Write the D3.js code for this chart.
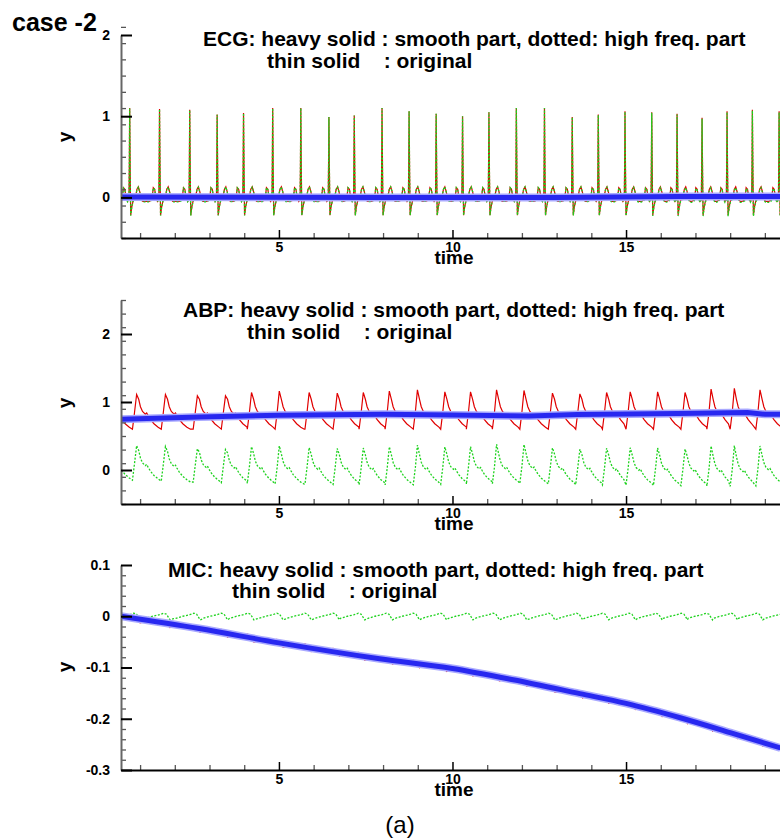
<!DOCTYPE html>
<html>
<head>
<meta charset="utf-8">
<script src="https://cdn.jsdelivr.net/npm/d3@7"></script>
<style>
  body { margin: 0; background: #fff; }
  text { font-family: "Liberation Sans", Arial, sans-serif; }
</style>
</head>
<body>
<svg id="chart" width="780" height="838"></svg>
<script>
// ---- data ----
const timeDomain = [0.45, 19.45];
const xMajorTicks = [5, 10, 15];
const xMinorTicks = [1, 2, 3, 4, 6, 7, 8, 9, 11, 12, 13, 14, 16, 17, 18, 19];

// ECG: R-peak times and heights, one beat shape [dt, value] (null = R peak)
const ecgBeatTimes = [0.70, 1.56, 2.43, 3.22, 3.98, 4.82, 5.63, 6.44, 7.17, 7.97, 8.75, 9.53, 10.29,
  11.05, 11.84, 12.65, 13.45, 14.20, 14.97, 15.74, 16.47, 17.19, 17.91, 18.64, 19.41];
const ecgPeaks = [1.10, 1.09, 1.08, 1.02, 1.04, 1.10, 1.10, 0.99, 1.01, 1.10, 1.06, 1.03, 1.00,
  1.05, 1.10, 1.10, 0.99, 1.02, 1.06, 1.05, 1.03, 0.98, 1.06, 1.08, 1.06];
const ecgBeat = [[-0.30, -0.05], [-0.22, -0.03], [-0.18, 0.12], [-0.14, 0.10], [-0.10, -0.01],
  [-0.06, -0.05], [-0.02, -0.02], [-0.01, 0.40], [0, null], [0.015, 0.30], [0.03, -0.22],
  [0.06, -0.12], [0.10, -0.04], [0.16, -0.01], [0.21, 0.10], [0.25, 0.13], [0.29, 0.07],
  [0.33, -0.02], [0.38, -0.05], [0.45, -0.05]];
const ecgSmooth = [[0.45, 0.005], [8, 0.0], [13, 0.0], [16.5, 0.01], [19.45, 0.012]];

// ABP: pulse peak times and heights, one pulse shape
const abpBeatTimes = [0.07, 0.90, 1.73, 2.65, 3.46, 4.21, 5.01, 5.87, 6.68, 7.43, 8.18, 8.99, 9.78,
  10.52, 11.27, 12.06, 12.88, 13.67, 14.44, 15.12, 15.91, 16.70, 17.45, 18.12, 18.86, 19.62];
const abpPeaks = [1.10, 1.11, 1.11, 1.09, 1.09, 1.14, 1.16, 1.14, 1.13, 1.14, 1.16, 1.18, 1.15,
  1.15, 1.18, 1.17, 1.13, 1.12, 1.14, 1.15, 1.15, 1.14, 1.19, 1.20, 1.18, 1.15];
const abpBeat = [[-0.12, 0.60], [-0.06, 0.85], [0, null], [0.06, 1.04], [0.11, 0.93], [0.17, 0.86],
  [0.25, 0.82], [0.29, 0.84], [0.33, 0.80], [0.40, 0.74], [0.50, 0.68], [0.62, 0.63], [0.72, 0.60]];
const abpSmooth = [[0.45, 0.745], [2.7, 0.78], [5, 0.805], [8, 0.82], [10, 0.81], [12.2, 0.795],
  [13.6, 0.815], [16.5, 0.83], [18.5, 0.845], [19, 0.82], [19.45, 0.82]];

// MIC: smooth trend and the small per-beat ripple
const micSmooth = [[0.45, 0.0], [2.7, -0.024], [5, -0.052], [7.9, -0.083], [10, -0.102],
  [11.75, -0.124], [13.67, -0.151], [15, -0.170], [16.56, -0.198], [18, -0.227], [19.45, -0.257]];
const micRipple = [[-0.40, -0.004], [-0.20, 0.0], [0.0, 0.003], [0.12, 0.006], [0.20, 0.004],
  [0.30, -0.007], [0.38, -0.005]];

// ---- helpers ----
function beatTrace(times, peaks, shape) {
  const pts = [];
  times.forEach((t0, i) => {
    const limit = i + 1 < times.length ? times[i + 1] + shape[0][0] : Infinity;
    shape.forEach(([dt, v]) => {
      if (t0 + dt < limit) pts.push([t0 + dt, v === null ? peaks[i] : v]);
    });
  });
  return pts;
}
function interp(knots) {
  return d3.scaleLinear().domain(knots.map(d => d[0])).range(knots.map(d => d[1])).clamp(true);
}

const ecgRed = beatTrace(ecgBeatTimes, ecgPeaks, ecgBeat);
const ecgS = interp(ecgSmooth);
const ecgGreen = ecgRed.map(([t, v]) => [t, v - ecgS(t)]);

const abpRed = beatTrace(abpBeatTimes, abpPeaks, abpBeat);
const abpS = interp(abpSmooth);
const abpGreen = abpRed.map(([t, v]) => [t, v - abpS(t)]);

const micGreen = beatTrace(ecgBeatTimes, ecgPeaks, micRipple);
const micS = interp(micSmooth);
const micRed = micGreen.map(([t, v]) => [t, v + micS(t)]);

const fmtInt = d => String(d);
const fmtDec = d => String(+d.toFixed(1));

const panels = [
  { name: "ECG", top: 35, bottom: 238, yDomain: [-0.5, 2], majors: [0, 1, 2], minorStep: 0.2, fmt: fmtInt,
    red: ecgRed, green: ecgGreen, smooth: ecgSmooth, smoothCurve: d3.curveLinear,
    title: ["ECG: heavy solid : smooth part, dotted: high freq. part", "thin solid    : original"],
    t1: [203, 46], t2: [267, 68], yLab: 137 },
  { name: "ABP", top: 300, bottom: 504, yDomain: [-0.5, 2.5], majors: [0, 1, 2], minorStep: 0.2, fmt: fmtInt,
    red: abpRed, green: abpGreen, smooth: abpSmooth, smoothCurve: d3.curveLinear,
    title: ["ABP: heavy solid : smooth part, dotted: high freq. part", "thin solid    : original"],
    t1: [183, 317], t2: [247, 339], yLab: 403 },
  { name: "MIC", top: 565, bottom: 770, yDomain: [-0.3, 0.1], majors: [-0.3, -0.2, -0.1, 0, 0.1], minorStep: 0.02, fmt: fmtDec,
    red: micRed, green: micGreen, smooth: micSmooth, smoothCurve: d3.curveMonotoneX,
    title: ["MIC: heavy solid : smooth part, dotted: high freq. part", "thin solid    : original"],
    t1: [168, 577], t2: [232, 598], yLab: 667 }
];

const svg = d3.select("#chart");
const x = d3.scaleLinear().domain(timeDomain).range([121, 780.5]);
const defs = svg.append("defs");

svg.append("text").attr("x", 12).attr("y", 31)
  .attr("font-size", 25).attr("font-weight", "bold").text("case -2");

panels.forEach(p => {
  const y = d3.scaleLinear().domain(p.yDomain).range([p.bottom, p.top]);
  const g = svg.append("g");
  const clipId = "clip-" + p.name;
  defs.append("clipPath").attr("id", clipId).append("rect")
    .attr("x", 121).attr("y", p.top - 4).attr("width", 660).attr("height", p.bottom - p.top + 4);

  const line = d3.line().x(d => x(d[0])).y(d => y(d[1]));
  const plot = g.append("g").attr("clip-path", `url(#${clipId})`);

  plot.append("path").datum(p.red).attr("d", line)
    .attr("fill", "none").attr("stroke", "#e00000").attr("stroke-width", 1.2);
  plot.append("path").datum(p.green).attr("d", line)
    .attr("fill", "none").attr("stroke", "#1ed21e").attr("stroke-width", 1.3)
    .attr("stroke-dasharray", "2,1.6");
  const smoothLine = d3.line().x(d => x(d[0])).y(d => y(d[1])).curve(p.smoothCurve);
  plot.append("path").datum(p.smooth).attr("d", smoothLine)
    .attr("fill", "none").attr("stroke", "#a9a9ff").attr("stroke-width", 8);
  plot.append("path").datum(p.smooth).attr("d", smoothLine)
    .attr("fill", "none").attr("stroke", "#2828f0").attr("stroke-width", 5);

  // y axis
  const lo = p.yDomain[0], hi = p.yDomain[1];
  const minors = d3.range(Math.round((hi - lo) / p.minorStep) + 1)
    .map(i => +(lo + i * p.minorStep).toFixed(3))
    .filter(v => !p.majors.some(m => Math.abs(m - v) < 1e-6));
  const yMinor = g.append("g").attr("transform", "translate(121,0)")
    .call(d3.axisLeft(y).tickValues(minors).tickSizeInner(-5).tickSizeOuter(0).tickFormat(""));
  yMinor.select(".domain").remove();
  yMinor.selectAll(".tick line").attr("stroke", "#555").attr("stroke-width", 1.3);
  const yAxis = g.append("g").attr("transform", "translate(121,0)")
    .call(d3.axisLeft(y).tickValues(p.majors).tickSizeInner(-11).tickSizeOuter(0)
      .tickPadding(11).tickFormat(p.fmt));
  yAxis.select(".domain").attr("stroke", "#666").attr("stroke-width", 2);
  yAxis.selectAll(".tick line").attr("stroke", "#000").attr("stroke-width", 2);
  yAxis.selectAll(".tick text").attr("font-size", 14).attr("font-weight", "bold")
    .attr("font-family", "'Liberation Sans', Arial, sans-serif").attr("fill", "#000");

  // x axis
  const xMinor = g.append("g").attr("transform", `translate(0,${p.bottom})`)
    .call(d3.axisBottom(x).tickValues(xMinorTicks).tickSizeInner(-5).tickSizeOuter(0).tickFormat(""));
  xMinor.select(".domain").remove();
  xMinor.selectAll(".tick line").attr("stroke", "#555").attr("stroke-width", 1.3);
  const xAxis = g.append("g").attr("transform", `translate(0,${p.bottom})`)
    .call(d3.axisBottom(x).tickValues(xMajorTicks).tickSizeInner(-8).tickSizeOuter(0).tickPadding(4));
  xAxis.select(".domain").attr("stroke", "#000").attr("stroke-width", 2);
  xAxis.selectAll(".tick line").attr("stroke", "#000").attr("stroke-width", 1.5);
  xAxis.selectAll(".tick text").attr("font-size", 14).attr("font-weight", "bold")
    .attr("font-family", "'Liberation Sans', Arial, sans-serif").attr("fill", "#000");

  // labels
  g.append("text").attr("x", 454).attr("y", p.bottom + 26).attr("text-anchor", "middle")
    .attr("font-size", 19).attr("font-weight", "bold").text("time");
  g.append("text").attr("transform", `translate(64,${p.yLab}) rotate(-90)`)
    .attr("text-anchor", "middle").attr("dominant-baseline", "central")
    .attr("font-size", 19).attr("font-weight", "bold").text("y");
  g.append("text").attr("x", p.t1[0]).attr("y", p.t1[1]).style("white-space", "pre")
    .attr("font-size", 21).attr("font-weight", "bold").text(p.title[0]);
  g.append("text").attr("x", p.t2[0]).attr("y", p.t2[1]).style("white-space", "pre")
    .attr("font-size", 21).attr("font-weight", "bold").text(p.title[1]);
});

svg.append("text").attr("x", 400).attr("y", 833).attr("text-anchor", "middle")
  .attr("font-family", "'Liberation Serif', 'DejaVu Serif', serif").attr("font-size", 24).text("(a)");
</script>
</body>
</html>
